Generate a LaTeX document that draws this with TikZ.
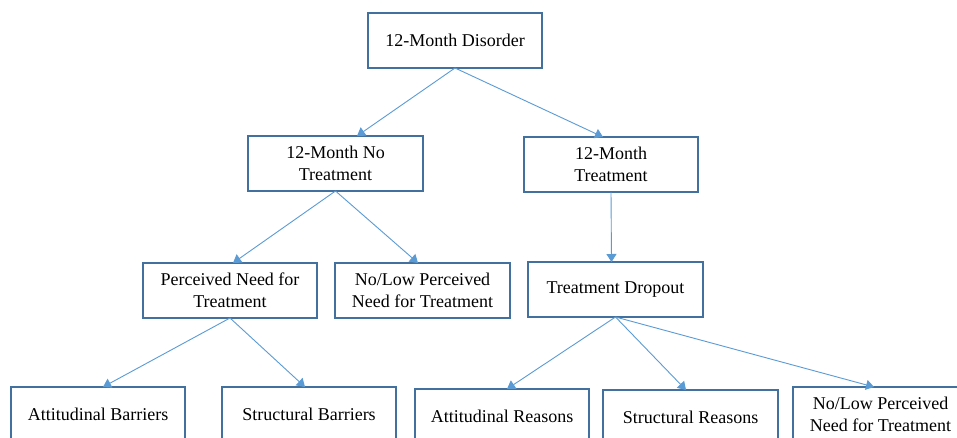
\documentclass[tikz,border=0pt]{standalone}
\usepackage{fontspec}
\setmainfont{Liberation Serif}
\usetikzlibrary{arrows.meta}
\definecolor{boxblue}{HTML}{41719C}
\definecolor{lineblue}{HTML}{5B9BD5}
\tikzset{
  box/.style={draw=boxblue, line width=1.5pt, fill=white, minimum width=174pt, minimum height=55pt,
    inner sep=0pt, outer sep=0pt, align=center, font=\fontspec{Liberation Serif}\fontsize{18}{21.6}\selectfont, text=black},
  conn/.style={draw=lineblue, line width=0.9pt, -{Triangle[width=10pt,length=8pt]}}
}
\begin{document}
\begin{tikzpicture}[x=1pt,y=-1pt]
\clip (0,0) rectangle (957,438);
\fill[white] (0,0) rectangle (957,438);
\node[box] (top) at (455,40.5) {12-Month Disorder};
\node[box, minimum width=175pt] (noT) at (335.5,163.5) {12-Month No\\Treatment};
\node[box] (T) at (611,164.5) {12-Month\\Treatment};
\node[box] (PN) at (230,290.5) {Perceived Need for\\Treatment};
\node[box, minimum width=175pt] (NLP) at (422.5,290.5) {No/Low Perceived\\Need for Treatment};
\node[box, minimum width=175pt] (TD) at (615.5,289.5) {Treatment Dropout};
\node[box] (AB) at (98,414.5) {Attitudinal Barriers};
\node[box] (SB) at (309,414.5) {Structural Barriers};
\node[box] (AR) at (502,416.5) {Attitudinal Reasons};
\node[box, minimum width=175pt] (SR) at (690.5,417.5) {Structural Reasons};
\node[box, minimum width=175pt] (NL2) at (880.5,414.5) {No/Low Perceived\\Need for Treatment};
\draw[conn] (top.south) -- ([xshift=21.5pt]noT.north);
\draw[conn] (top.south) -- ([xshift=-8pt]T.north);
\draw[conn] (noT.south) -- ([xshift=3pt]PN.north);
\draw[conn] (noT.south) -- ([xshift=-4.5pt]NLP.north);
\draw[conn] (T.south) -- ([xshift=-4pt]TD.north);
\draw[conn] (PN.south) -- ([xshift=5pt]AB.north);
\draw[conn] (PN.south) -- ([xshift=-4pt]SB.north);
\draw[conn] (TD.south) -- ([xshift=5pt]AR.north);
\draw[conn] (TD.south) -- ([xshift=-4.5pt]SR.north);
\draw[conn] (TD.south) -- ([xshift=-6.5pt]NL2.north);
\end{tikzpicture}
\end{document}
